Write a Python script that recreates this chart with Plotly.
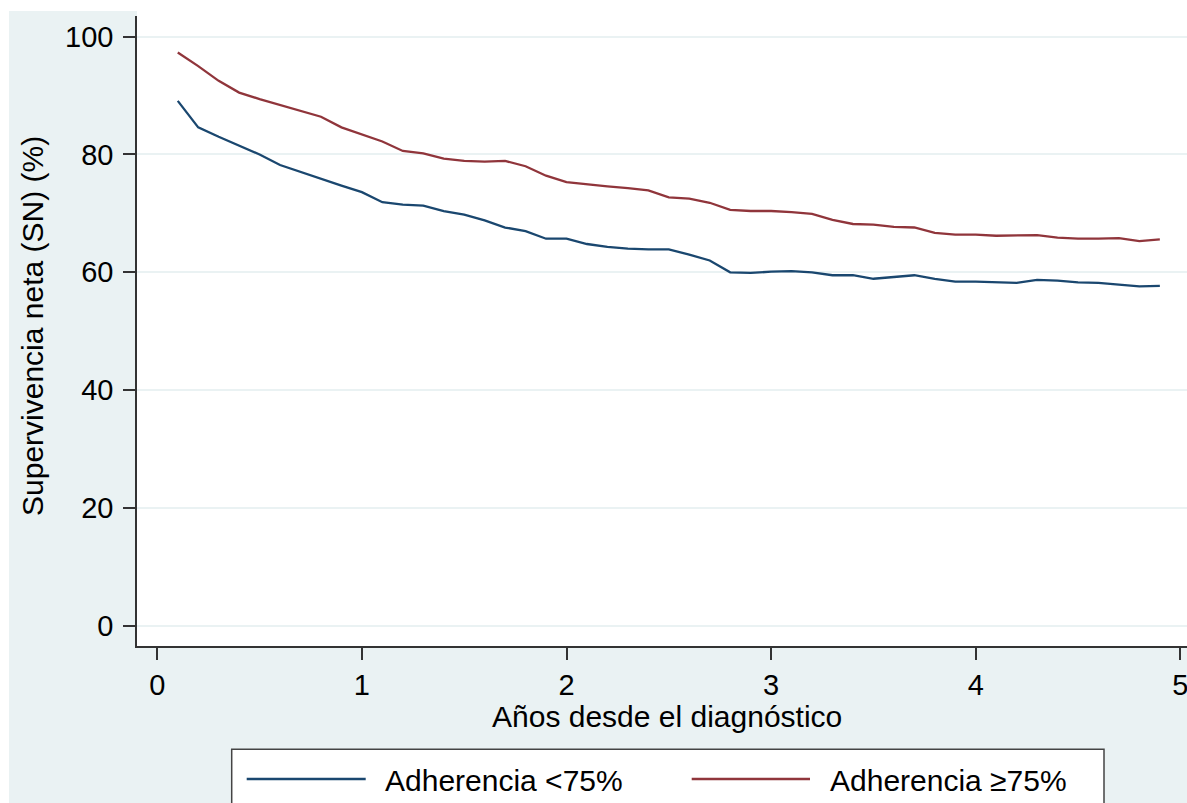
import plotly.graph_objects as go

years = [0.1, 0.2, 0.3, 0.4, 0.5, 0.6, 0.7, 0.8, 0.9, 1.0,
         1.1, 1.2, 1.3, 1.4, 1.5, 1.6, 1.7, 1.8, 1.9, 2.0,
         2.1, 2.2, 2.3, 2.4, 2.5, 2.6, 2.7, 2.8, 2.9, 3.0,
         3.1, 3.2, 3.3, 3.4, 3.5, 3.6, 3.7, 3.8, 3.9, 4.0,
         4.1, 4.2, 4.3, 4.4, 4.5, 4.6, 4.7, 4.8, 4.9]

sn_low = [89.1, 84.6, 83.0, 81.5, 80.0, 78.2, 77.0, 75.8, 74.7, 73.6,
          71.9, 71.5, 71.3, 70.4, 69.8, 68.8, 67.6, 67.0, 65.7, 65.7,
          64.8, 64.3, 64.0, 63.9, 63.9, 63.0, 62.0, 60.0, 59.9, 60.1,
          60.2, 60.0, 59.5, 59.5, 58.9, 59.2, 59.5, 58.9, 58.4, 58.4,
          58.3, 58.2, 58.7, 58.6, 58.3, 58.2, 57.9, 57.6, 57.7]

sn_high = [97.3, 95.0, 92.5, 90.5, 89.4, 88.4, 87.4, 86.4, 84.6, 83.4,
           82.2, 80.6, 80.2, 79.3, 78.9, 78.8, 78.9, 78.0, 76.4, 75.3,
           74.9, 74.6, 74.3, 73.9, 72.7, 72.5, 71.8, 70.6, 70.4, 70.4,
           70.2, 69.9, 68.9, 68.2, 68.1, 67.7, 67.6, 66.7, 66.4, 66.4,
           66.2, 66.3, 66.3, 65.9, 65.7, 65.7, 65.8, 65.3, 65.6]

x_ticks = [0, 1, 2, 3, 4, 5]
y_ticks = [0, 20, 40, 60, 80, 100]

labels = ["Adherencia <75%", "Adherencia \u226575%"]
colors = ["#1a476f", "#90353b"]

FONT = "Liberation Sans, Arial, Helvetica, sans-serif"
BG = "#eaf2f3"

W, H = 1187, 803
L, R, T, B = 137, 0, 16, 157
PW = W - L - R
PH = H - T - B


def px(xp):
    return (xp - L) / PW


def py(yp):
    return (H - B - yp) / PH


fig = go.Figure()
for vals, name, col in zip([sn_low, sn_high], labels, colors):
    fig.add_trace(go.Scatter(x=years, y=vals, mode="lines", name=name,
                             line=dict(color=col, width=2.3),
                             showlegend=False))

shapes = [
    # white strips at the top and left edges of the picture
    dict(type="rect", xref="paper", yref="paper", x0=px(-10), x1=px(9),
         y0=py(820), y1=py(-10), fillcolor="white", line=dict(width=0),
         layer="below"),
    dict(type="rect", xref="paper", yref="paper", x0=px(-10), x1=px(1200),
         y0=py(11), y1=py(-10), fillcolor="white", line=dict(width=0),
         layer="below"),
    dict(type="rect", xref="paper", yref="paper", x0=px(137), x1=px(1200),
         y0=py(16), y1=py(10), fillcolor="white", line=dict(width=0),
         layer="below"),
    # legend box
    dict(type="rect", xref="paper", yref="paper", x0=px(231.7), x1=px(1104),
         y0=py(830), y1=py(749.3), fillcolor="white",
         line=dict(color="#444444", width=1.5), layer="above"),
    dict(type="line", xref="paper", yref="paper", x0=px(246.7), x1=px(365.7),
         y0=py(779), y1=py(779), line=dict(color=colors[0], width=2.3),
         layer="above"),
    dict(type="line", xref="paper", yref="paper", x0=px(691.7), x1=px(810),
         y0=py(779), y1=py(779), line=dict(color=colors[1], width=2.3),
         layer="above"),
]

annotations = [
    dict(text="A\u00f1os desde el diagn\u00f3stico", xref="paper", yref="paper",
         x=px(666.7), y=py(716), xanchor="center", yanchor="middle",
         showarrow=False, font=dict(family=FONT, size=30, color="#000000")),
    dict(text="Supervivencia neta (SN) (%)", xref="paper", yref="paper",
         x=px(32), y=py(326), xanchor="center", yanchor="middle", textangle=-90,
         showarrow=False, font=dict(family=FONT, size=30, color="#000000")),
    dict(text=labels[0], xref="paper", yref="paper",
         x=px(383), y=py(780), xanchor="left", yanchor="middle",
         showarrow=False, font=dict(family=FONT, size=30, color="#000000")),
    dict(text=labels[1], xref="paper", yref="paper",
         x=px(828), y=py(780), xanchor="left", yanchor="middle",
         showarrow=False, font=dict(family=FONT, size=30, color="#000000")),
]

fig.update_layout(
    width=W, height=H,
    margin=dict(l=L, r=R, t=T, b=B, pad=0),
    paper_bgcolor=BG, plot_bgcolor="white",
    font=dict(family=FONT, size=29, color="#000000"),
    shapes=shapes, annotations=annotations,
    showlegend=False,
)
fig.update_xaxes(range=[-0.0992, 5.0327], tickvals=x_ticks,
                 ticktext=[str(t) for t in x_ticks],
                 showgrid=False, zeroline=False,
                 showline=True, linecolor="#333333", linewidth=1.5,
                 ticks="outside", ticklen=12, tickwidth=1.5, tickcolor="#333333",
                 ticklabeloverflow="allow",
                 tickfont=dict(family=FONT, size=29, color="#000000"))
fig.update_yaxes(range=[-3.43, 103.5], tickvals=y_ticks,
                 ticktext=[str(t) for t in y_ticks],
                 showgrid=True, gridcolor=BG, gridwidth=1.5, zeroline=False,
                 showline=True, linecolor="#333333", linewidth=1.5,
                 ticks="outside", ticklen=12, tickwidth=1.5, tickcolor="#333333",
                 ticklabelstandoff=4,
                 tickfont=dict(family=FONT, size=29, color="#000000"))

fig.write_html(
    "out.html",
    config={"displayModeBar": False},
    post_script="document.body.style.margin='0';document.body.style.overflow='hidden';",
)
